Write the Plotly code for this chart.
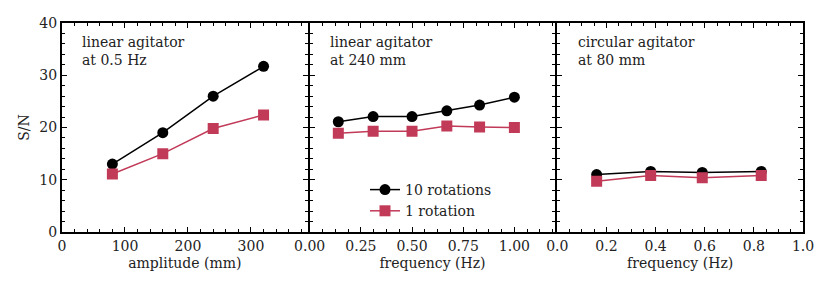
import plotly.graph_objects as go

# ---- data ----
amp_mm = [80, 160, 240, 320]
amp_sn_10rot = [13.0, 19.0, 26.0, 31.7]
amp_sn_1rot = [11.1, 15.0, 19.8, 22.4]

lin_freq_hz = [0.14, 0.31, 0.50, 0.67, 0.83, 1.00]
lin_sn_10rot = [21.1, 22.1, 22.1, 23.2, 24.3, 25.8]
lin_sn_1rot = [18.9, 19.3, 19.3, 20.3, 20.1, 20.0]

circ_freq_hz = [0.16, 0.38, 0.59, 0.83]
circ_sn_10rot = [11.0, 11.6, 11.4, 11.6]
circ_sn_1rot = [9.7, 10.8, 10.4, 10.8]

panel_texts = [["linear agitator", "at 0.5 Hz"],
               ["linear agitator", "at 240 mm"],
               ["circular agitator", "at 80 mm"]]

BLACK = "#000000"
RED = "#c13a58"
FONT = "DejaVu Serif"

# page body has an 8px default margin: figure is offset by 8px
OFF = 8
FIG_W, FIG_H = 831 - OFF, 293 - OFF
PL, PR, PT, PB = 62 - OFF, 803 - OFF, 23 - OFF, 232 - OFF
LW = 2.0

fig = go.Figure()

panels = [
    (amp_mm, amp_sn_10rot, amp_sn_1rot, "x", "y", False),
    (lin_freq_hz, lin_sn_10rot, lin_sn_1rot, "x2", "y2", True),
    (circ_freq_hz, circ_sn_10rot, circ_sn_1rot, "x3", "y3", False),
]
for xs, y10, y1, xa, ya, show in panels:
    fig.add_trace(go.Scatter(x=xs, y=y10, mode="lines+markers", name="10 rotations",
                             xaxis=xa, yaxis=ya, showlegend=show,
                             line=dict(color=BLACK, width=1.5),
                             marker=dict(symbol="circle", size=11, color=BLACK)))
    fig.add_trace(go.Scatter(x=xs, y=y1, mode="lines+markers", name="1 rotation",
                             xaxis=xa, yaxis=ya, showlegend=show,
                             line=dict(color=RED, width=1.5),
                             marker=dict(symbol="square", size=11, color=RED)))

plot_w = PR - PL
g = LW / plot_w
W = (1.0 - 2 * g) / 3
d1 = [0, W]
d2 = [W + g, 2 * W + g]
d3 = [2 * W + 2 * g, 1]

axis_common = dict(showline=True, linecolor="black", linewidth=LW, mirror="allticks",
                   ticks="inside", ticklen=5, tickwidth=1.2, tickcolor="black",
                   showgrid=False, zeroline=False,
                   tickfont=dict(family=FONT, size=14, color="#222222"))
minor_common = dict(ticks="inside", ticklen=3, tickwidth=1, tickcolor="black", showgrid=False)
title_font = dict(family=FONT, size=14, color="#222222")

fig.update_layout(
    width=FIG_W, height=FIG_H,
    margin=dict(l=PL, r=FIG_W - PR, t=PT, b=FIG_H - PB, autoexpand=False),
    paper_bgcolor="white", plot_bgcolor="white",
    font=dict(family=FONT, size=14, color="#222222"),
    xaxis=dict(domain=d1, range=[0, 390], dtick=100,
               minor=dict(dtick=20, **minor_common),
               title=dict(text="amplitude (mm)", standoff=5, font=title_font), **axis_common),
    xaxis2=dict(domain=d2, range=[0, 1.2], dtick=0.25, tickformat=".2f",
                minor=dict(dtick=0.0625, **minor_common),
                title=dict(text="frequency (Hz)", standoff=5, font=title_font), **axis_common),
    xaxis3=dict(domain=d3, range=[0, 1.0], dtick=0.2, tickformat=".1f",
                minor=dict(dtick=0.05, **minor_common),
                title=dict(text="frequency (Hz)", standoff=5, font=title_font), **axis_common),
    yaxis=dict(anchor="x", range=[0, 40], dtick=10,
               minor=dict(dtick=2, **minor_common),
               title=dict(text="S/N", standoff=6, font=title_font), **axis_common),
    yaxis2=dict(anchor="x2", range=[0, 40], dtick=10, showticklabels=False,
                minor=dict(dtick=2, **minor_common), **axis_common),
    yaxis3=dict(anchor="x3", range=[0, 40], dtick=10, showticklabels=False,
                minor=dict(dtick=2, **minor_common), **axis_common),
    legend=dict(x=(365 - 62) / 741, y=(232 - 174) / 209, xanchor="left", yanchor="top",
                bgcolor="rgba(0,0,0,0)", borderwidth=0,
                font=dict(family=FONT, size=14, color="#222222"), tracegroupgap=0),
)

for i, lines in enumerate(panel_texts):
    suffix = "" if i == 0 else str(i + 1)
    for j, txt in enumerate(lines):
        fig.add_annotation(text=txt, xref=f"x{suffix} domain", yref=f"y{suffix} domain",
                           x=0.075, y=(232 - (42 + 18 * j)) / 209,
                           xanchor="left", yanchor="middle", showarrow=False,
                           font=dict(family=FONT, size=14, color="#222222"))

fig.write_html("out.html")
